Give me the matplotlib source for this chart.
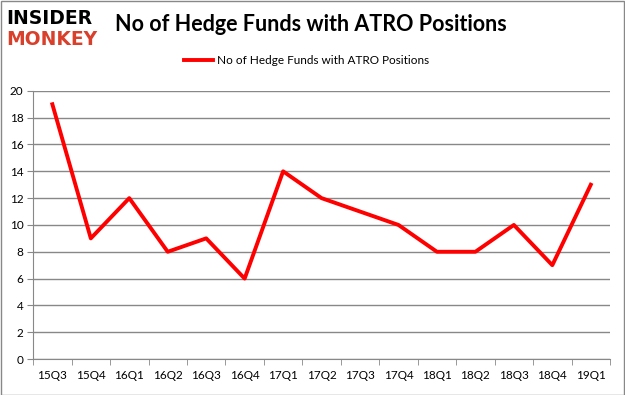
import numpy as np
import matplotlib
matplotlib.use("Agg")
import matplotlib.pyplot as plt
from matplotlib.patches import Rectangle

quarters = ["15Q3", "15Q4", "16Q1", "16Q2", "16Q3", "16Q4", "17Q1", "17Q2",
            "17Q3", "17Q4", "18Q1", "18Q2", "18Q3", "18Q4", "19Q1"]
funds = [19, 9, 12, 8, 9, 6, 14, 12, 11, 10, 8, 8, 10, 7, 13]
series_name = "No of Hedge Funds with ATRO Positions"

plt.rcParams["font.family"] = ["Lato", "DejaVu Sans"]

fig = plt.figure(figsize=(6.25, 3.95), dpi=100)
ax = fig.add_axes([0.053, 0.091, 0.923, 0.679])

x = np.arange(len(quarters))
ax.plot(x, funds, color="#ff0000", lw=2.8, label=series_name)

ax.set_xlim(-0.5, len(quarters) - 0.5)
ax.set_ylim(0, 20)
ax.set_yticks(np.arange(0, 21, 2))
ax.set_xticks(x)
ax.set_xticklabels(quarters)
ax.set_xticks(np.arange(-0.5, len(quarters), 1), minor=True)
ax.tick_params(axis="x", which="major", length=0, pad=8, labelsize=8.5)
ax.tick_params(axis="x", which="minor", length=4, color="#888888")
ax.tick_params(axis="y", length=4, color="#888888", labelsize=8.5, pad=3)
ax.yaxis.grid(True, color="#888888", lw=1)
ax.set_axisbelow(True)
for s in ["top", "right"]:
    ax.spines[s].set_visible(False)
for s in ["left", "bottom"]:
    ax.spines[s].set_color("#888888")

fig.legend(*ax.get_legend_handles_labels(), loc="center",
           bbox_to_anchor=(0.49, 0.846), frameon=False,
           fontsize=8.5, handlelength=2.5, handletextpad=0.3)

fig.text(0.184, 0.937, "No of Hedge Funds with ATRO Positions",
         fontsize=15.5, fontweight="bold", va="center", ha="left")
fig.text(0.01, 0.952, "INSIDER", fontsize=13.5, fontweight="heavy",
         color="black", va="center", ha="left", family="DejaVu Sans")
fig.text(0.01, 0.9, "MONKEY", fontsize=13.5, fontweight="heavy",
         color="#d9402b", va="center", ha="left", family="DejaVu Sans")

fig.patches.append(Rectangle((0.001, 0.001), 0.997, 0.997, transform=fig.transFigure,
                             fill=False, edgecolor="#888888", lw=1))

fig.savefig("out.png", dpi=100)
